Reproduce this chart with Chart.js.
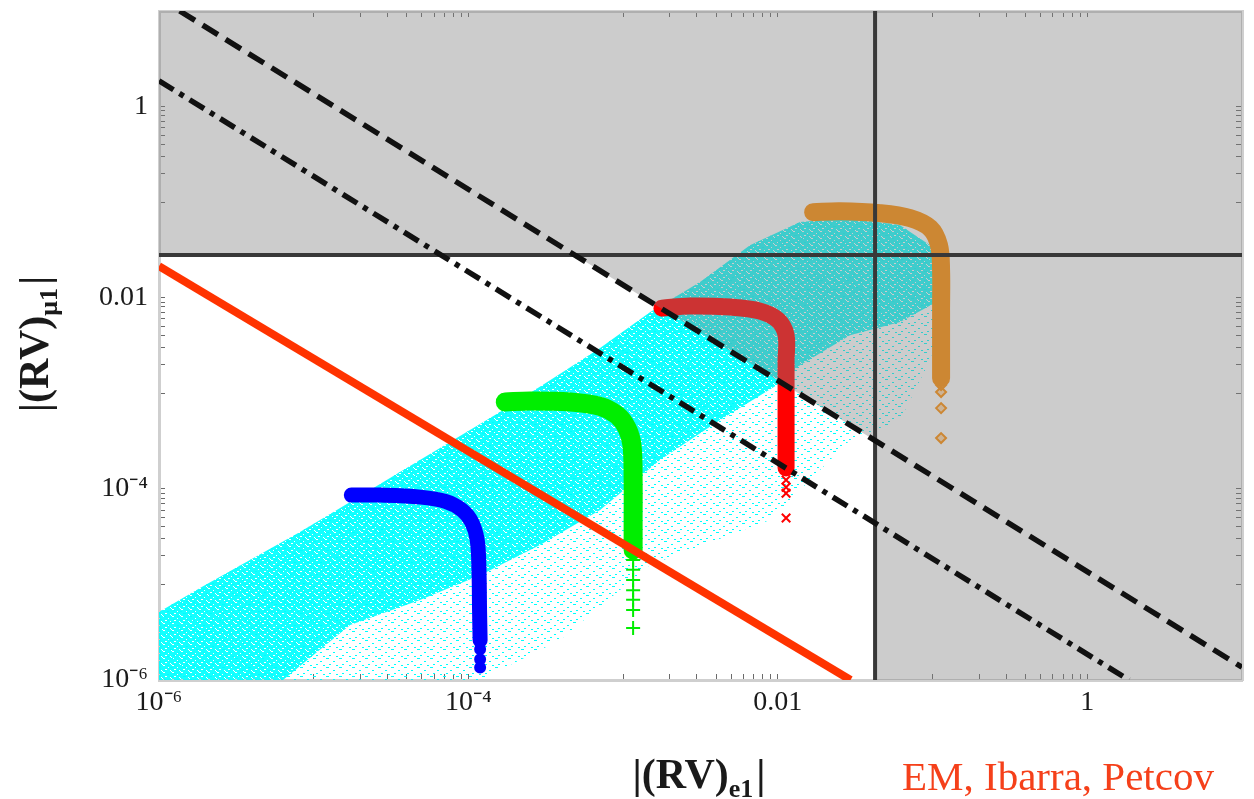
<!DOCTYPE html>
<html>
<head>
<meta charset="utf-8">
<script src="https://cdn.jsdelivr.net/npm/chart.js@4.4.0/dist/chart.umd.min.js"></script>
<style>
  html, body { margin: 0; padding: 0; background: #fff; }
  #wrap { width: 1254px; height: 799px; }
</style>
</head>
<body>
<div id="wrap"><canvas id="chart" width="1254" height="799"></canvas></div>
<script>
// axes
const xRange = [1e-6, 10];
const yRange = [1e-6, 10];
const majorTicks = [1e-6, 1e-4, 1e-2, 1];
const tickLabels = ['10\u207B\u2076', '10\u207B\u2074', '0.01', '1'];
const minorDecades = [1e-5, 1e-3, 1e-1];

// scan cloud (cyan) outline
const cloudTopX = [1e-6, 1.84e-6, 3.87e-6, 8.15e-6, 1.72e-5, 3.61e-5, 7.6e-5, 1.6e-4, 3.37e-4, 7.1e-4, 1.49e-3, 3.14e-3, 6.6e-3, 1.39e-2, 2.93e-2, 6.17e-2, 9.64e-2, 0.12];
const cloudTopY = [5.14e-6, 9.2e-6, 1.8e-5, 3.53e-5, 7.28e-5, 1.5e-4, 3.09e-4, 6.36e-4, 1.37e-3, 2.97e-3, 7.06e-3, 1.46e-2, 3.55e-2, 6.18e-2, 6.81e-2, 5.74e-2, 3.55e-2, 1.95e-2];
const denseLowX = [0.112, 6.17e-2, 2.93e-2, 1.39e-2, 9.9e-3, 4.23e-3, 1.73e-3, 7.1e-4, 2.9e-4, 1.19e-4, 4.86e-5, 1.72e-5, 6.33e-6, 1e-6];
const denseLowY = [9.44e-3, 5.56e-3, 4.06e-3, 1.97e-3, 1.22e-3, 5.25e-4, 2.0e-4, 6.0e-5, 2.58e-5, 1.25e-5, 6.87e-6, 3.76e-6, 1e-6, 1e-6];
const sparseLowX = [0.12, 9.64e-2, 6.17e-2, 2.93e-2, 8.9e-3, 1.49e-3, 3.91e-4, 1.19e-4, 1e-6];
const sparseLowY = [9.44e-3, 2.22e-3, 5.25e-4, 3.24e-4, 4.72e-5, 1.6e-5, 2.62e-6, 1e-6, 1e-6];

// the four L-shaped bands (centre line) and their tails
const blueX = [1.75e-5, 2.7e-5, 4.9e-5, 7.1e-5, 9.1e-5, 1.05e-4, 1.14e-4, 1.17e-4, 1.18e-4, 1.19e-4];
const blueY = [8.6e-5, 8.6e-5, 8.2e-5, 7.4e-5, 6.0e-5, 4.5e-5, 2.9e-5, 1.4e-5, 5.4e-6, 2.6e-6];
const blueTailX = [1.19e-4, 1.19e-4, 1.19e-4];
const blueTailY = [2.1e-6, 1.65e-6, 1.35e-6];

const greenX = [1.73e-4, 2.5e-4, 4.54e-4, 7.1e-4, 9.15e-4, 1.06e-3, 1.14e-3, 1.16e-3, 1.16e-3, 1.16e-3];
const greenY = [8.1e-4, 8.3e-4, 8.1e-4, 7.3e-4, 5.9e-4, 4.3e-4, 2.87e-4, 1.24e-4, 4.7e-5, 2.29e-5];
const greenTailX = [1.16e-3, 1.16e-3, 1.16e-3, 1.16e-3, 1.16e-3, 1.16e-3, 1.16e-3];
const greenTailY = [1.8e-5, 1.42e-5, 1.11e-5, 8.7e-6, 6.9e-6, 5.4e-6, 3.5e-6];

const redX = [1.78e-3, 2.7e-3, 4.91e-3, 7.67e-3, 1.0e-2, 1.13e-2, 1.13e-2, 1.13e-2, 1.13e-2, 1.13e-2];
const redY = [7.78e-3, 8.2e-3, 7.98e-3, 7.24e-3, 5.83e-3, 4.06e-3, 2.22e-3, 8.5e-4, 3.24e-4, 1.65e-4];
const redTailX = [1.13e-2, 1.13e-2, 1.13e-2, 1.13e-2];
const redTailY = [1.24e-4, 1.04e-4, 9.0e-5, 4.96e-5];

const orangeX = [1.69e-2, 2.52e-2, 4.58e-2, 7.16e-2, 9.64e-2, 0.110, 0.1135, 0.1135, 0.1135, 0.1135];
const orangeY = [7.85e-2, 8.05e-2, 7.67e-2, 6.81e-2, 5.35e-2, 3.55e-2, 1.95e-2, 7.41e-3, 2.83e-3, 1.44e-3];
const orangeTailX = [0.1135, 0.1135, 0.1135, 0.1135];
const orangeTailY = [1.22e-3, 1.03e-3, 7.0e-4, 3.4e-4];

// bounds
const redLineX = [1e-6, 0.0295];
const redLineY = [0.0214, 1e-6];
const dashX = [1.36e-6, 10];
const dashY = [10, 1.36e-6];
const dashDotX = [1e-6, 1.86];
const dashDotY = [1.86, 1e-6];
const hLineX = [1e-6, 10];
const hLineY = [0.028, 0.028];
const vLineX = [0.0425, 0.0425];
const vLineY = [1e-6, 10];
// excluded (grey) region outline
const grayX = [1e-6, 10, 10, 0.0425, 0.0425, 4.86e-4, 1e-6];
const grayY = [10, 10, 1e-6, 1e-6, 3.2e-4, 0.028, 0.028];

const pts = (xs, ys) => xs.map((x, i) => ({ x: x, y: ys[i] }));

const minorTicks = [];
minorDecades.forEach(d => {
  for (let k = 1; k <= 9; k++) minorTicks.push(+(k * d).toPrecision(3));
});
const allTicks = majorTicks.concat(minorTicks).sort((a, b) => a - b);

// speckled fills so the cloud looks like a scatter of tiny points
function speckle(w, h, base, dots) {
  const c = document.createElement('canvas');
  c.width = w; c.height = h;
  const g = c.getContext('2d');
  if (base) { g.fillStyle = base; g.fillRect(0, 0, w, h); }
  dots.forEach(d => {
    if (d[4]) { g.clearRect(d[0], d[1], d[2], d[3]); }
    else { g.fillStyle = '#00ffff'; g.fillRect(d[0], d[1], d[2], d[3]); }
  });
  return g.createPattern(c, 'repeat');
}
const densePattern = speckle(9, 7, 'rgba(0,255,255,0.92)',
  [[1, 0, 2, 1, 1], [6, 2, 1, 1, 1], [3, 4, 2, 1, 1], [0, 6, 1, 1, 1], [8, 5, 1, 1, 1]]);
const sparsePattern = speckle(13, 9, null,
  [[1, 1, 3, 1], [8, 4, 2, 1], [4, 7, 2, 1], [11, 8, 2, 1]]);

function band(data, color, width, order) {
  return { data: data, showLine: true, borderColor: color, borderWidth: width, borderCapStyle: 'round',
    borderJoinStyle: 'round', tension: 0.35, pointRadius: 0, fill: false, order: order };
}
function tail(data, color, style, r, order) {
  return { data: data, showLine: false, pointStyle: style, pointRadius: r, borderColor: color,
    backgroundColor: color, pointBorderWidth: 2, order: order };
}
function straight(data, color, width, dash, order) {
  return { data: data, showLine: true, borderColor: color, borderWidth: width, borderDash: dash,
    borderCapStyle: 'butt', pointRadius: 0, fill: false, order: order };
}
function region(data, fillStyle, order) {
  return { data: data, showLine: true, borderWidth: 0, borderColor: 'transparent',
    backgroundColor: fillStyle, fill: 'shape', pointRadius: 0, order: order };
}

const datasets = [
  straight(pts(redLineX, redLineY), '#ff3300', 8, [], 0),
  straight(pts(dashX, dashY), '#111', 5.5, [18, 9], 1),
  straight(pts(dashDotX, dashDotY), '#111', 5.5, [17, 7, 5, 7], 2),
  straight(pts(hLineX, hLineY), '#383838', 4, [], 3),
  straight(pts(vLineX, vLineY), '#383838', 4, [], 4),
  region(pts(grayX, grayY), 'rgba(128,128,128,0.4)', 5),
  tail(pts(blueTailX, blueTailY), '#0000ff', 'circle', 5, 6),
  tail(pts(greenTailX, greenTailY), '#00ee00', 'cross', 7, 7),
  tail(pts(redTailX, redTailY), '#ff0000', 'crossRot', 6, 8),
  Object.assign(tail(pts(orangeTailX, orangeTailY), '#ff8c00', 'rectRot', 5, 9), { backgroundColor: 'rgba(255,140,0,0.35)' }),
  band(pts(blueX, blueY), '#0000ff', 15, 10),
  band(pts(greenX, greenY), '#00ee00', 19, 11),
  band(pts(redX, redY), '#ff0000', 17, 12),
  band(pts(orangeX, orangeY), '#ff8c00', 18, 13),
  region(pts(cloudTopX.concat(denseLowX), cloudTopY.concat(denseLowY)), densePattern, 14),
  region(pts(cloudTopX.concat(sparseLowX), cloudTopY.concat(sparseLowY)), sparsePattern, 15)
];

function setTicks(scale) {
  scale.ticks = allTicks.map(v => ({ value: v, major: majorTicks.indexOf(v) >= 0 }));
}
function tickLabel(v) {
  const i = majorTicks.indexOf(v);
  return i >= 0 ? tickLabels[i] : '';
}
// fixed scale sizes, no extra label padding pushed onto the plot area
function fixSize(prop, size) {
  return s => {
    s[prop] = size;
    s.paddingTop = 0; s.paddingBottom = 0; s.paddingLeft = 0; s.paddingRight = 0;
  };
}
const tickFont = { family: 'Liberation Serif', size: 28 };
const frame = { color: '#cfcfcf', width: 3 };
const tickGrid = { drawOnChartArea: false, tickLength: -6, tickColor: '#6a6a6a', tickWidth: 1 };

// axis titles with subscripts and the credit line
const titlePlugin = {
  id: 'titles',
  afterDraw(chart) {
    const ctx = chart.ctx;
    function label(main, sub) {
      ctx.font = 'bold 42px "Liberation Serif"';
      const w1 = ctx.measureText(main).width;
      ctx.font = 'bold 26px "Liberation Serif"';
      const w2 = ctx.measureText(sub).width;
      ctx.font = 'bold 42px "Liberation Serif"';
      const w3 = ctx.measureText('|').width;
      const x = -(w1 + w2 + 3 + w3) / 2;
      ctx.fillStyle = '#1a1a1a';
      ctx.textBaseline = 'alphabetic';
      ctx.textAlign = 'left';
      ctx.fillText(main, x, 0);
      ctx.fillText('|', x + w1 + w2 + 3, 0);
      ctx.font = 'bold 26px "Liberation Serif"';
      ctx.fillText(sub, x + w1, 9);
    }
    ctx.save();
    ctx.translate(699, 788);
    label('|(RV)', 'e1');
    ctx.restore();
    ctx.save();
    ctx.translate(48, 344);
    ctx.rotate(-Math.PI / 2);
    label('|(RV)', '\u03BC1');
    ctx.restore();
    ctx.save();
    ctx.font = '41px "Liberation Serif"';
    ctx.fillStyle = '#f5401a';
    ctx.textAlign = 'left';
    ctx.textBaseline = 'alphabetic';
    ctx.fillText('EM, Ibarra, Petcov', 902, 790);
    ctx.restore();
  }
};

new Chart(document.getElementById('chart'), {
  type: 'scatter',
  data: { datasets: datasets },
  plugins: [titlePlugin],
  options: {
    responsive: false,
    animation: false,
    devicePixelRatio: 1,
    layout: { autoPadding: false, padding: { top: 11, right: 12, left: 0, bottom: 0 } },
    plugins: { legend: { display: false }, tooltip: { enabled: false } },
    scales: {
      x: {
        type: 'logarithmic', position: 'bottom', min: xRange[0], max: xRange[1],
        afterBuildTicks: setTicks,
        afterFit: fixSize('height', 119),
        ticks: { callback: tickLabel, font: tickFont, color: '#1a1a1a', padding: 12, autoSkip: false, maxRotation: 0, minRotation: 0 },
        grid: tickGrid, border: frame
      },
      x2: {
        type: 'logarithmic', position: 'top', min: xRange[0], max: xRange[1],
        afterBuildTicks: setTicks,
        afterFit: fixSize('height', 0),
        ticks: { display: false }, grid: tickGrid, border: frame
      },
      y: {
        type: 'logarithmic', position: 'left', min: yRange[0], max: yRange[1],
        afterBuildTicks: setTicks,
        afterFit: fixSize('width', 159),
        ticks: { callback: tickLabel, font: tickFont, color: '#1a1a1a', padding: 17, autoSkip: false },
        grid: tickGrid, border: frame
      },
      y2: {
        type: 'logarithmic', position: 'right', min: yRange[0], max: yRange[1],
        afterBuildTicks: setTicks,
        afterFit: fixSize('width', 0),
        ticks: { display: false }, grid: tickGrid, border: frame
      }
    }
  }
});
</script>
</body>
</html>
